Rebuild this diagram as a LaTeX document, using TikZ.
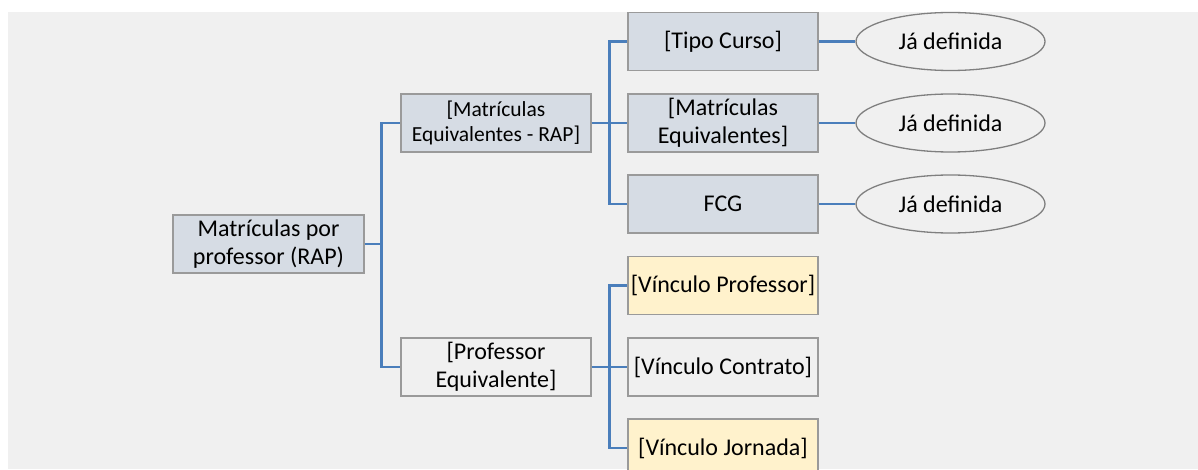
\documentclass[tikz,border=0pt]{standalone}
\usepackage{fontspec}
\setmainfont{Carlito}
\usetikzlibrary{shapes.geometric}
\definecolor{bgc}{HTML}{F0F0F0}
\definecolor{bluefill}{HTML}{D6DCE4}
\definecolor{yellowfill}{HTML}{FFF2CC}
\definecolor{linkc}{HTML}{4A7EBB}
\definecolor{borderc}{HTML}{9A9A9A}
\definecolor{ellc}{HTML}{7F7F7F}
\tikzset{
  box/.style={draw=borderc, line width=1.5pt, minimum width=190pt, minimum height=58pt,
    inner sep=0pt, align=center, font=\fontsize{24}{27.5}\selectfont},
  bluebox/.style={box, fill=bluefill},
  greybox/.style={box, fill=bgc},
  yellowbox/.style={box, fill=yellowfill},
  oval/.style={ellipse, draw=ellc, line width=1.3pt, fill=bgc, minimum width=189pt,
    minimum height=58pt, inner sep=0pt, font=\fontsize{24}{27.5}\selectfont},
  link/.style={draw=linkc, line width=2.6pt}
}
\begin{document}
\begin{tikzpicture}[x=1pt,y=-1pt]
\useasboundingbox (0,0) rectangle (1198,470);
\fill[white] (0,0) rectangle (1198,470);
\fill[bgc] (8,12) rectangle (1198,469);
\begin{scope}
\clip (0,0) rectangle (1198,470);
\node[bluebox, minimum width=191pt] (root) at (268.5,244) {Matrículas por\\professor (RAP)};
\node[bluebox, font=\fontsize{21.5}{25}\selectfont] (A) at (496,123) {[Matrículas\\Equivalentes - RAP]};
\node[greybox] (B) at (496,367) {[Professor\\Equivalente]};
\node[bluebox] (C1) at (723,41.5) {[Tipo Curso]};
\node[bluebox] (C2) at (723,123) {[Matrículas\\Equivalentes]};
\node[bluebox] (C3) at (723,204) {FCG};
\node[oval] (E1) at (950.5,41.5) {Já definida};
\node[oval] (E2) at (950.5,123) {Já definida};
\node[oval] (E3) at (950.5,204) {Já definida};
\node[yellowbox] (D1) at (723,285.5) {[Vínculo Professor]};
\node[greybox] (D2) at (723,367) {[Vínculo Contrato]};
\node[yellowbox] (D3) at (723,448) {[Vínculo Jornada]};
\draw[link] (root.east) -- ++(17,0) |- (A.west);
\draw[link] (root.east) -- ++(17,0) |- (B.west);
\draw[link] (A.east) -- ++(18,0) |- (C1.west);
\draw[link] (A.east) -- (C2.west);
\draw[link] (A.east) -- ++(18,0) |- (C3.west);
\draw[link] (B.east) -- ++(18,0) |- (D1.west);
\draw[link] (B.east) -- (D2.west);
\draw[link] (B.east) -- ++(18,0) |- (D3.west);
\draw[link] (C1.east) -- (E1.west);
\draw[link] (C2.east) -- (E2.west);
\draw[link] (C3.east) -- (E3.west);
\end{scope}
\end{tikzpicture}
\end{document}
